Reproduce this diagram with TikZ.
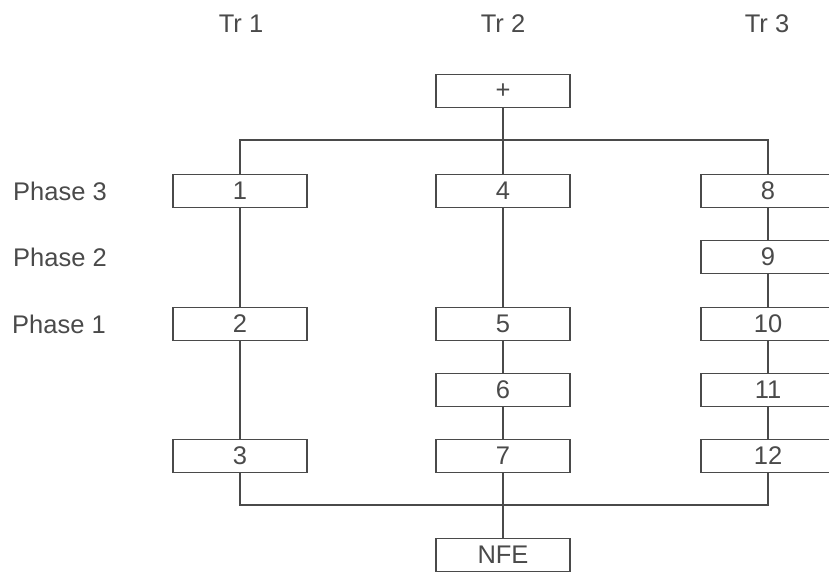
\documentclass[tikz,border=0pt]{standalone}
\usepackage{fontspec}
\setmainfont{Liberation Sans}
\definecolor{ink}{HTML}{4A4A4A}
\begin{document}
\begin{tikzpicture}[x=1pt,y=-1pt,
  lbl/.style={font=\fontsize{25.5}{30}\selectfont, text=ink, inner sep=0pt},
  stage/.style={draw=ink, line width=1.4pt, minimum width=134pt, minimum height=33pt,
    inner sep=0pt, font=\fontsize{25.5}{30}\selectfont, text=ink},
  link/.style={draw=ink, line width=1.1pt}]
\useasboundingbox (0,0) rectangle (829,574);
\clip (0,0) rectangle (829,574);
% column headings
\node[lbl] (tr1) at (241,24) {Tr 1};
\node[lbl] (tr2) at (503,24) {Tr 2};
\node[lbl] (tr3) at (767,24) {Tr 3};
% row headings
\node[lbl, anchor=west] (ph3) at (13,191) {Phase 3};
\node[lbl, anchor=west] (ph2) at (13,257) {Phase 2};
\node[lbl, anchor=west] (ph1) at (12,324) {Phase 1};
% stages
\node[stage] (plus) at (503,91) {+};
\node[stage] (b1) at (240,191) {1};
\node[stage] (b4) at (503,191) {4};
\node[stage] (b8) at (768,191) {8};
\node[stage] (b9) at (768,257) {9};
\node[stage] (b2) at (240,324) {2};
\node[stage] (b5) at (503,324) {5};
\node[stage] (b10) at (768,324) {10};
\node[stage] (b6) at (503,390) {6};
\node[stage] (b11) at (768,390) {11};
\node[stage] (b3) at (240,456) {3};
\node[stage] (b7) at (503,456) {7};
\node[stage] (b12) at (768,456) {12};
\node[stage] (nfe) at (503,555) {NFE};
% bus corners
\coordinate (tl) at (240,140);
\coordinate (tr) at (768,140);
\coordinate (bl) at (240,505);
\coordinate (br) at (768,505);
% top distribution
\draw[link] (b1.north) -- (tl) -- (tr) -- (b8.north);
\draw[link] (plus.south) -- (b4.north);
% columns
\draw[link] (b1) -- (b2);
\draw[link] (b2) -- (b3);
\draw[link] (b4) -- (b5);
\draw[link] (b5) -- (b6);
\draw[link] (b6) -- (b7);
\draw[link] (b8) -- (b9);
\draw[link] (b9) -- (b10);
\draw[link] (b10) -- (b11);
\draw[link] (b11) -- (b12);
% bottom collection
\draw[link] (b3.south) -- (bl) -- (br) -- (b12.south);
\draw[link] (b7.south) -- (nfe.north);
\end{tikzpicture}
\end{document}
